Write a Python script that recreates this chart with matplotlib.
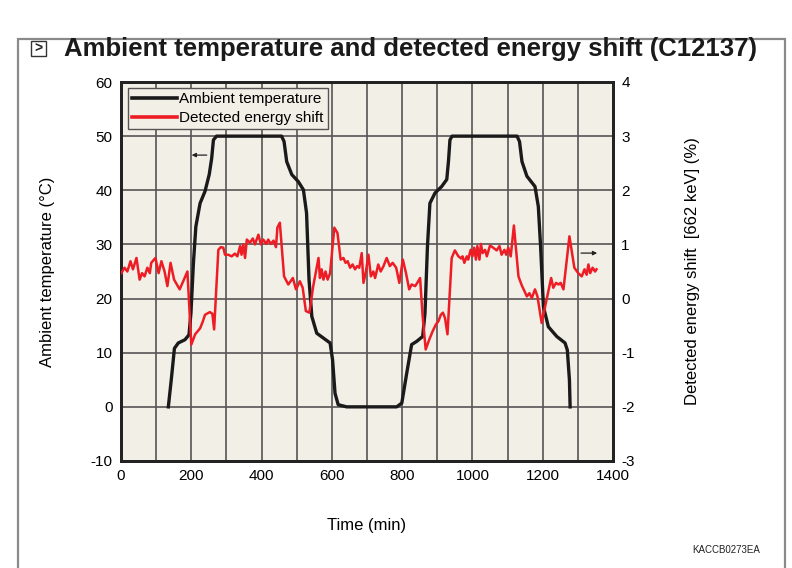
import matplotlib
matplotlib.use("Agg")
import matplotlib.pyplot as plt
from matplotlib.patches import Rectangle
from matplotlib.ticker import MultipleLocator

# ---------------- data ----------------
temp_time = [134.7, 144, 152, 163, 182, 193.5, 199, 206, 213, 225, 239, 251, 258, 263, 272,
             457, 464, 471.5, 486, 504.5, 519, 528, 535, 543, 557, 576, 595, 602, 609, 618, 642,
             784.5, 799, 813, 827, 841.5, 858.5, 865, 872, 879, 893.5, 912.5, 927, 932, 936, 942,
             1127, 1134, 1141, 1155, 1178, 1187.5, 1194, 1202, 1216, 1240, 1263.5, 1270, 1276, 1278]
temp_vals = [0.0, 5.6, 10.8, 11.8, 12.4, 13.3, 17.3, 26.5, 33.3, 37.6, 39.8, 42.9, 45.9, 49.3, 50.0,
             50.0, 49.0, 45.3, 42.9, 41.6, 40.1, 35.8, 23.5, 16.7, 13.6, 12.7, 11.8, 8.7, 2.5, 0.4, 0.0,
             0.0, 0.7, 6.2, 11.5, 12.1, 13.0, 17.3, 29.6, 37.6, 39.5, 40.7, 42.0, 45.5, 49.3, 50.0,
             50.0, 49.0, 45.3, 42.6, 40.7, 37.0, 29.6, 18.5, 14.8, 13.0, 11.8, 10.5, 5.0, 0.0]

shift_time = [1, 10, 18, 27, 34, 44, 53, 60, 67, 75, 82, 86, 98, 107, 115, 124, 132, 141, 151, 167,
              189, 200, 211, 225, 233, 239, 247, 253, 260, 265, 277, 284, 291, 296, 305, 315, 324,
              331, 339, 343, 348, 353, 358, 367, 375, 381, 391, 398, 405, 413, 419, 426, 434, 441,
              445, 452, 464, 476, 489, 498, 509, 517, 526, 536, 547, 562, 566, 571, 576, 582, 588,
              595, 607, 616, 625, 633, 639, 645, 652, 659, 666, 672, 678, 685, 690, 697, 704, 711,
              718, 723, 732, 739, 747, 756, 765, 773, 783, 792, 802, 811, 820, 827, 837, 843, 851,
              858, 867, 877, 887, 896, 903, 910, 916, 922, 929, 941, 950, 960, 968, 972, 977, 984,
              988, 995, 1000, 1005, 1010, 1014, 1020, 1024, 1029, 1036, 1041, 1050, 1059, 1069,
              1077, 1083, 1091, 1096, 1102, 1109, 1118, 1131, 1140, 1155, 1162, 1169, 1178, 1185,
              1197, 1211, 1224, 1230, 1238, 1245, 1251, 1259, 1276, 1290, 1301, 1311, 1319, 1325,
              1330, 1335, 1342, 1349, 1353]
shift_vals = [0.47, 0.57, 0.50, 0.69, 0.54, 0.75, 0.35, 0.47, 0.41, 0.57, 0.47, 0.66, 0.75, 0.47,
              0.69, 0.50, 0.23, 0.66, 0.35, 0.17, 0.50, -0.85, -0.66, -0.55, -0.42, -0.30, -0.27,
              -0.25, -0.28, -0.57, 0.90, 0.95, 0.94, 0.81, 0.81, 0.78, 0.83, 0.78, 0.97, 0.81, 1.00,
              0.75, 1.09, 1.03, 1.11, 1.00, 1.18, 1.00, 1.09, 1.01, 1.09, 1.01, 1.07, 0.95, 1.31,
              1.40, 0.41, 0.26, 0.38, 0.17, 0.32, 0.20, -0.23, -0.26, 0.23, 0.75, 0.38, 0.54, 0.35,
              0.50, 0.35, 0.47, 1.31, 1.21, 0.72, 0.75, 0.66, 0.69, 0.57, 0.63, 0.54, 0.60, 0.57,
              0.84, 0.29, 0.50, 0.81, 0.41, 0.50, 0.38, 0.63, 0.50, 0.60, 0.75, 0.60, 0.66, 0.57,
              0.29, 0.72, 0.47, 0.17, 0.26, 0.23, 0.29, 0.38, -0.30, -0.94, -0.76, -0.60, -0.48,
              -0.42, -0.30, -0.26, -0.36, -0.66, 0.75, 0.89, 0.78, 0.74, 0.78, 0.66, 0.78, 0.72,
              0.90, 0.78, 0.94, 0.72, 0.97, 0.72, 1.01, 0.84, 0.90, 0.78, 0.98, 0.94, 0.89, 0.97,
              0.81, 0.90, 0.81, 0.94, 0.78, 1.35, 0.41, 0.25, 0.04, 0.10, 0.01, 0.17, 0.04, -0.45,
              -0.02, 0.38, 0.20, 0.29, 0.26, 0.29, 0.17, 1.15, 0.57, 0.47, 0.41, 0.54, 0.44, 0.63,
              0.47, 0.57, 0.50, 0.54]

x_ticks = [0, 200, 400, 600, 800, 1000, 1200, 1400]
y_left_ticks = [-10, 0, 10, 20, 30, 40, 50, 60]
y_right_ticks = [-3, -2, -1, 0, 1, 2, 3, 4]

title = "Ambient temperature and detected energy shift (C12137)"
FONT = ["Liberation Sans", "DejaVu Sans"]
plt.rcParams['font.family'] = FONT
plt.rcParams['axes.unicode_minus'] = False

W, H = 792, 568
fig = plt.figure(figsize=(W / 100, H / 100), dpi=100)
fig.patch.set_facecolor("white")

def fx(px):
    return px / W

def fy(py):
    return 1 - py / H

# outer frame
fig.patches.append(Rectangle((fx(18), fy(600)), fx(785) - fx(18), fy(39) - fy(600),
                             transform=fig.transFigure, fill=False, edgecolor="#8a8a8a",
                             linewidth=1.6, clip_on=False))
# icon box
fig.patches.append(Rectangle((fx(31), fy(56)), fx(46) - fx(31), fy(41) - fy(56),
                             transform=fig.transFigure, fill=False, edgecolor="#333333",
                             linewidth=1.0))
fig.text(fx(38.7), fy(48.5), ">", ha="center", va="center", fontsize=10, color="#222222",
         fontweight="bold")
fig.text(fx(64), fy(49), title, ha="left", va="center", fontsize=18.5, fontweight="bold",
         family=["Liberation Sans", "DejaVu Sans"], color="#1a1a1a")

bg = "#f1efe6"
ax = fig.add_axes([fx(121), fy(461), fx(613) - fx(121), fy(82) - fy(461)])
ax.set_facecolor(bg)
ax.set_xlim(0, 1400)
ax.set_ylim(-10, 60)
ax.set_xticks(x_ticks)
ax.xaxis.set_minor_locator(MultipleLocator(100))
ax.set_yticks(y_left_ticks)
ax.grid(True, which="both", axis="x", color="#555555", linewidth=1.2)
ax.grid(True, which="major", axis="y", color="#555555", linewidth=1.2)
ax.set_axisbelow(True)
ax.tick_params(length=0, labelsize=11, pad=6, which="both")
for s in ax.spines.values():
    s.set_linewidth(2.0)
    s.set_color("#222222")

ax.plot(temp_time, temp_vals, color="#1a1a1a", linewidth=2.4, solid_joinstyle="round",
        label="Ambient temperature", zorder=3)
ax.set_xlabel("Time (min)", fontsize=12, labelpad=25)
ax.set_ylabel("Ambient temperature (°C)", fontsize=12, labelpad=26)

ax2 = ax.twinx()
ax2.set_ylim(-3, 4)
ax2.set_yticks(y_right_ticks)
ax2.tick_params(length=0, labelsize=11, pad=6)
for s in ax2.spines.values():
    s.set_linewidth(2.0)
    s.set_color("#222222")
ax2.plot(shift_time, shift_vals, color="#ee1c25", linewidth=1.8, solid_joinstyle="round",
         label="Detected energy shift", zorder=4)
ax2.set_ylabel("Detected energy shift  [662 keV] (%)", fontsize=12, labelpad=36)

# arrows
ax.annotate("", xy=(201, 46.5), xytext=(244, 46.5),
            arrowprops=dict(arrowstyle="-|>", color="#222222", lw=0.9, mutation_scale=6,
                            shrinkA=0, shrinkB=0))
ax2.annotate("", xy=(1355, 0.84), xytext=(1309, 0.84),
             arrowprops=dict(arrowstyle="-|>", color="#222222", lw=0.9, mutation_scale=6,
                             shrinkA=0, shrinkB=0))

h1, l1 = ax.get_legend_handles_labels()
h2, l2 = ax2.get_legend_handles_labels()
leg = ax2.legend(h1 + h2, l1 + l2, loc="upper left", bbox_to_anchor=(0.014, 0.985),
                 fontsize=11, handlelength=2.9, handletextpad=0.12, borderpad=0.3,
                 labelspacing=0.3, fancybox=False, framealpha=1, borderaxespad=0)
leg.get_frame().set_facecolor(bg)
leg.get_frame().set_edgecolor("#555555")
leg.get_frame().set_linewidth(1.0)
for line in leg.get_lines():
    line.set_linewidth(2.6)

fig.text(fx(760), fy(550), "KACCB0273EA", ha="right", va="center", fontsize=7,
         color="#222222")

fig.savefig("out.png", dpi=100)
